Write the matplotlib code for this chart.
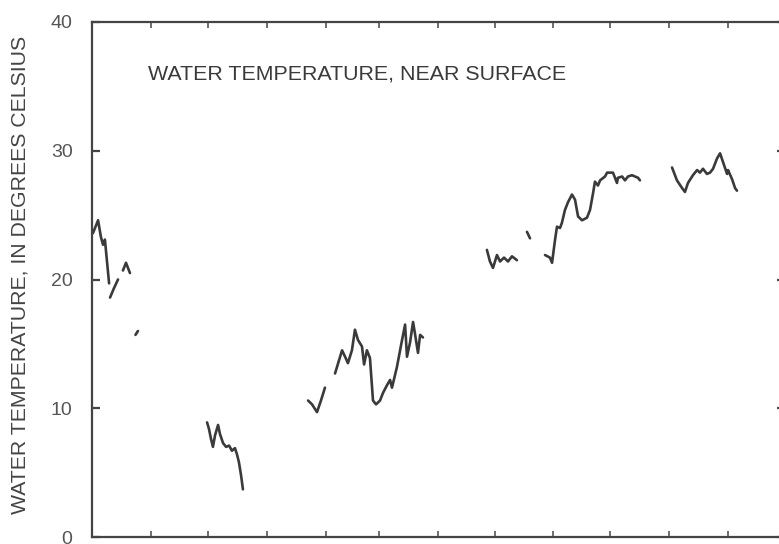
import matplotlib
matplotlib.use("Agg")
import matplotlib.pyplot as plt

plt.rcParams['font.family'] = ['Liberation Sans', 'DejaVu Sans']

# Day of water year (0 = Oct 1) and temperature (deg C), one list per continuous record piece
seg1_day = [0.5, 3.2, 4.7, 5.8, 6.8, 7.9, 9.0]
seg1_temp = [23.6, 24.6, 23.3, 22.7, 23.1, 21.4, 19.7]
seg2_day = [9.5, 11.5, 13.7]
seg2_temp = [18.6, 19.3, 20.0]
seg3_day = [16.3, 17.9, 20.0]
seg3_temp = [20.7, 21.3, 20.5]
seg4_day = [22.9, 24.2]
seg4_temp = [15.7, 16.0]
seg5_day = [60.6, 61.6, 62.7, 63.7, 64.8, 66.4, 67.4, 69.0, 70.6, 72.2, 73.7, 75.3,
            76.4, 77.4, 78.5, 79.5]
seg5_temp = [8.9, 8.4, 7.6, 7.0, 7.9, 8.7, 8.0, 7.3, 7.0, 7.1, 6.7, 6.9,
             6.4, 5.8, 4.8, 3.7]
seg6_day = [113.8, 115.9, 118.5, 120.6, 122.7]
seg6_temp = [10.6, 10.3, 9.7, 10.6, 11.6]
seg7_day = [128.0, 131.7, 133.3, 134.8, 136.9, 138.5, 140.1, 142.2, 143.3, 144.8,
            146.4, 148.0, 149.6, 151.7, 153.3, 155.4, 157.0, 158.0, 160.6, 163.3,
            164.9, 165.9, 167.5, 169.1, 170.1, 171.7, 172.8, 174.3]
seg7_temp = [12.7, 14.5, 14.0, 13.5, 14.5, 16.1, 15.3, 14.8, 13.4, 14.5,
             13.9, 10.6, 10.3, 10.6, 11.2, 11.8, 12.2, 11.6, 13.2, 15.3,
             16.5, 14.0, 15.1, 16.7, 15.8, 14.3, 15.7, 15.5]
seg8_day = [208.0, 209.6, 211.2, 213.3, 214.9, 217.0, 219.1, 221.2, 223.8]
seg8_temp = [22.3, 21.4, 20.9, 21.9, 21.4, 21.7, 21.4, 21.8, 21.5]
seg9_day = [229.1, 230.7]
seg9_temp = [23.7, 23.2]
seg10_day = [238.6, 241.2, 242.3, 243.9, 244.9, 246.5, 247.5, 249.1, 250.7, 252.8,
             254.4, 256.0, 258.1, 260.7, 262.3, 263.9, 264.9, 266.5, 267.6, 270.2,
             271.3, 272.8, 274.4, 276.5, 277.0, 279.2, 280.7, 282.3, 284.4, 286.0,
             287.6, 288.6]
seg10_temp = [21.9, 21.7, 21.3, 23.1, 24.1, 24.0, 24.4, 25.4, 26.0, 26.6,
              26.2, 24.9, 24.6, 24.8, 25.4, 26.7, 27.6, 27.3, 27.7, 28.0,
              28.3, 28.3, 28.3, 27.5, 27.9, 28.0, 27.7, 28.0, 28.1, 28.0,
              27.9, 27.7]
seg11_day = [305.5, 308.1, 310.8, 312.3, 313.9, 316.5, 318.7, 320.2, 321.8, 323.9,
             325.5, 327.1, 329.2, 330.8, 332.4, 334.5, 335.0, 337.1, 338.7, 339.7]
seg11_temp = [28.7, 27.7, 27.1, 26.8, 27.5, 28.1, 28.5, 28.3, 28.6, 28.2,
              28.3, 28.6, 29.4, 29.8, 29.1, 28.2, 28.5, 27.8, 27.1, 26.9]

segments = [(seg1_day, seg1_temp), (seg2_day, seg2_temp), (seg3_day, seg3_temp),
            (seg4_day, seg4_temp), (seg5_day, seg5_temp), (seg6_day, seg6_temp),
            (seg7_day, seg7_temp), (seg8_day, seg8_temp), (seg9_day, seg9_temp),
            (seg10_day, seg10_temp), (seg11_day, seg11_temp)]

month_ticks = [0, 31, 61, 92, 123, 151, 182, 212, 243, 273, 304, 335, 365]
y_ticks = [0, 10, 20, 30, 40]
y_ticklabels = ["0", "10", "20", "30", "40"]

title_text = "WATER TEMPERATURE, NEAR SURFACE"
ylabel_text = "WATER TEMPERATURE, IN DEGREES CELSIUS"

fig = plt.figure(figsize=(7.79, 5.44), dpi=100)
ax = fig.add_axes([92 / 779, 7 / 544, 693 / 779, 515 / 544])

for d, t in segments:
    ax.plot(d, t, color='#3a3a3a', lw=1.9, solid_joinstyle='round', solid_capstyle='round')

ax.set_xlim(0, 365)
ax.set_ylim(0, 40)
ax.set_xticks(month_ticks)
ax.set_yticks(y_ticks)
ax.set_yticklabels(y_ticklabels)

for s in ax.spines.values():
    s.set_color('#444444')
    s.set_linewidth(1.6)

ax.tick_params(axis='x', which='both', direction='in', top=True, bottom=True,
               labelbottom=False, length=4, width=1.2, color='#555555')
ax.tick_params(axis='y', which='both', direction='in', left=True, right=True,
               length=5.5, width=1.6, color='#444444', labelsize=14,
               labelcolor='#555555', pad=14)

ax.text(0.081, 0.899, title_text, transform=ax.transAxes, fontsize=15.4,
        color='#3a3a3a', ha='left', va='center')

fig.text(20.5 / 779, (544 - 275) / 544, ylabel_text, rotation=90, fontsize=15.3,
         color='#444444', ha='center', va='center')

fig.savefig('out.png', dpi=100)
